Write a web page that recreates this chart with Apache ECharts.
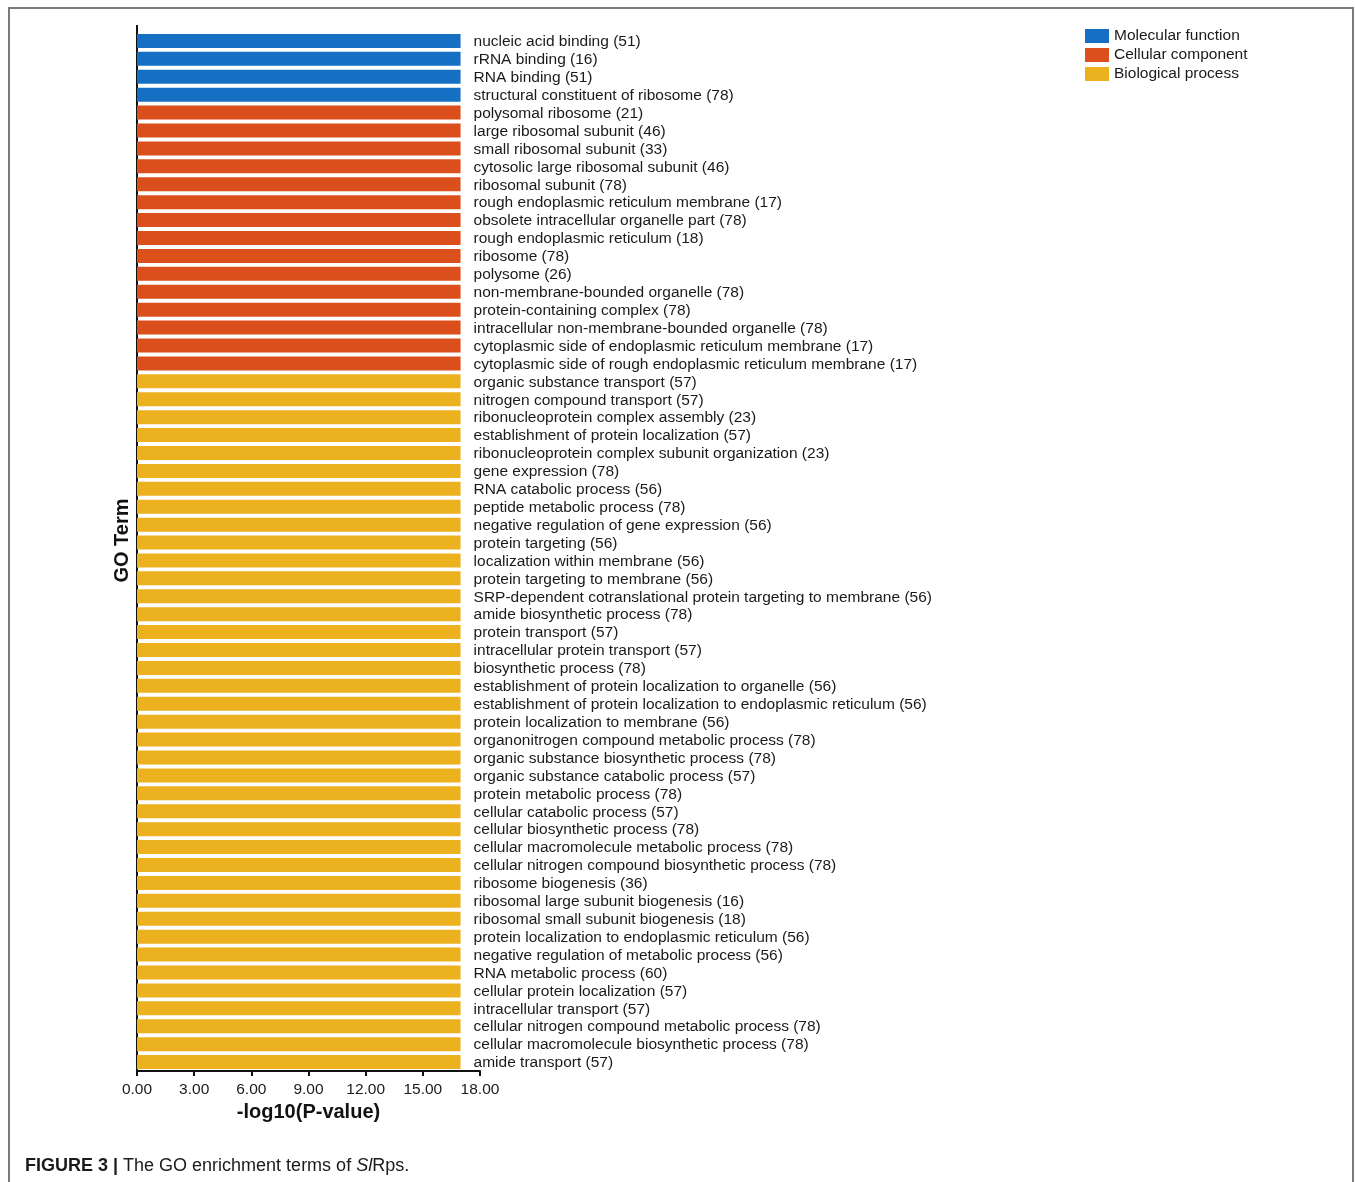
<!DOCTYPE html>
<html>
<head>
<meta charset="utf-8">
<script src="https://cdn.jsdelivr.net/npm/echarts@6/dist/echarts.min.js"></script>
<style>
  html, body { margin: 0; padding: 0; background: #fff; }
  #go-chart { width: 1355px; height: 1182px; }
</style>
</head>
<body>
<div id="go-chart"></div>
<script>
// GO terms, top to bottom
const terms = [
  'nucleic acid binding', 'rRNA binding', 'RNA binding', 'structural constituent of ribosome',
  'polysomal ribosome', 'large ribosomal subunit', 'small ribosomal subunit', 'cytosolic large ribosomal subunit',
  'ribosomal subunit', 'rough endoplasmic reticulum membrane', 'obsolete intracellular organelle part',
  'rough endoplasmic reticulum', 'ribosome', 'polysome', 'non-membrane-bounded organelle',
  'protein-containing complex', 'intracellular non-membrane-bounded organelle',
  'cytoplasmic side of endoplasmic reticulum membrane', 'cytoplasmic side of rough endoplasmic reticulum membrane',
  'organic substance transport', 'nitrogen compound transport', 'ribonucleoprotein complex assembly',
  'establishment of protein localization', 'ribonucleoprotein complex subunit organization', 'gene expression',
  'RNA catabolic process', 'peptide metabolic process', 'negative regulation of gene expression',
  'protein targeting', 'localization within membrane', 'protein targeting to membrane',
  'SRP-dependent cotranslational protein targeting to membrane', 'amide biosynthetic process',
  'protein transport', 'intracellular protein transport', 'biosynthetic process',
  'establishment of protein localization to organelle', 'establishment of protein localization to endoplasmic reticulum',
  'protein localization to membrane', 'organonitrogen compound metabolic process',
  'organic substance biosynthetic process', 'organic substance catabolic process', 'protein metabolic process',
  'cellular catabolic process', 'cellular biosynthetic process', 'cellular macromolecule metabolic process',
  'cellular nitrogen compound biosynthetic process', 'ribosome biogenesis', 'ribosomal large subunit biogenesis',
  'ribosomal small subunit biogenesis', 'protein localization to endoplasmic reticulum',
  'negative regulation of metabolic process', 'RNA metabolic process', 'cellular protein localization',
  'intracellular transport', 'cellular nitrogen compound metabolic process',
  'cellular macromolecule biosynthetic process', 'amide transport'
];

// gene counts shown in brackets
const geneCounts = [
  51, 16, 51, 78,
  21, 46, 33, 46, 78, 17, 78, 18, 78, 26, 78, 78, 78, 17, 17,
  57, 57, 23, 57, 23, 78, 56, 78, 56, 56,
  56, 56, 56, 78, 57, 57, 78, 56, 56, 56,
  78, 78, 57, 78, 57, 78, 78, 78, 36, 16,
  18, 56, 56, 60, 57, 57, 78, 78, 57
];

// 0 = Molecular function, 1 = Cellular component, 2 = Biological process
const termGroup = [
  0, 0, 0, 0,
  1, 1, 1, 1, 1, 1, 1, 1, 1, 1, 1, 1, 1, 1, 1,
  2, 2, 2, 2, 2, 2, 2, 2, 2, 2,
  2, 2, 2, 2, 2, 2, 2, 2, 2, 2,
  2, 2, 2, 2, 2, 2, 2, 2, 2, 2,
  2, 2, 2, 2, 2, 2, 2, 2, 2
];

const logP = [
  16.98, 16.98, 16.98, 16.98,
  16.98, 16.98, 16.98, 16.98, 16.98, 16.98, 16.98, 16.98, 16.98, 16.98, 16.98, 16.98, 16.98, 16.98, 16.98,
  16.98, 16.98, 16.98, 16.98, 16.98, 16.98, 16.98, 16.98, 16.98, 16.98,
  16.98, 16.98, 16.98, 16.98, 16.98, 16.98, 16.98, 16.98, 16.98, 16.98,
  16.98, 16.98, 16.98, 16.98, 16.98, 16.98, 16.98, 16.98, 16.98, 16.98,
  16.98, 16.98, 16.98, 16.98, 16.98, 16.98, 16.98, 16.98, 16.98
];

const groupNames = ['Molecular function', 'Cellular component', 'Biological process'];
const groupColors = ['#1570c4', '#da4f1c', '#ecb11f'];
const xTicks = [0, 3, 6, 9, 12, 15, 18];

const FONT = 'Arial, "Liberation Sans", Helvetica, sans-serif';

const chart = echarts.init(document.getElementById('go-chart'), null, { renderer: 'canvas' });

const series = groupNames.map((name, g) => ({
  name: name,
  type: 'bar',
  stack: 'go',
  barWidth: 14,
  itemStyle: { color: groupColors[g] },
  data: logP.map((v, i) => (termGroup[i] === g ? v : '-')),
  label: {
    show: true,
    position: 'right',
    distance: 13,
    offset: [0, 1],
    color: '#1a1a1a',
    fontSize: 15.5,
    fontFamily: FONT,
    formatter: p => terms[p.dataIndex] + ' (' + geneCounts[p.dataIndex] + ')'
  },
  emphasis: { disabled: true }
}));

const option = {
  backgroundColor: '#fff',
  animation: false,
  textStyle: { fontFamily: FONT, color: '#1a1a1a' },
  grid: { left: 137, right: 875, top: 32, bottom: 111, containLabel: false },
  legend: {
    data: groupNames,
    orient: 'vertical',
    left: 1080,
    top: 23,
    itemWidth: 24,
    itemHeight: 14,
    itemGap: 3,
    icon: 'rect',
    textStyle: { fontSize: 15.5, color: '#1a1a1a', fontFamily: FONT }
  },
  xAxis: {
    type: 'value',
    min: xTicks[0],
    max: xTicks[xTicks.length - 1],
    interval: 3,
    name: '-log10(P-value)',
    nameLocation: 'middle',
    nameGap: 28,
    nameTextStyle: { fontSize: 20, fontWeight: 'bold', color: '#111', fontFamily: FONT },
    axisLine: { show: true, lineStyle: { color: '#111', width: 2 } },
    axisTick: { show: true, length: 5, lineStyle: { color: '#111', width: 2 } },
    axisLabel: { fontSize: 15.5, color: '#1a1a1a', margin: 11, formatter: v => v.toFixed(2) },
    splitLine: { show: false }
  },
  yAxis: {
    type: 'category',
    data: terms,
    inverse: true,
    name: 'GO Term',
    nameLocation: 'middle',
    nameGap: 5,
    nameTextStyle: { fontSize: 20, fontWeight: 'bold', color: '#111', fontFamily: FONT, padding: [0, 0, 0, 22] },
    axisLine: { show: true, onZero: false, lineStyle: { color: '#111', width: 2 } },
    axisTick: { show: false },
    axisLabel: { show: false },
    splitLine: { show: false }
  },
  graphic: [
    {
      type: 'polyline',
      silent: true,
      shape: { points: [[9, 1182], [9, 8], [1353, 8], [1353, 1182]] },
      style: { stroke: '#7a7a7a', lineWidth: 2, fill: null }
    },
    {
      type: 'line',
      silent: true,
      shape: { x1: 137, y1: 25, x2: 137, y2: 33 },
      style: { stroke: '#111', lineWidth: 2 }
    },
    {
      type: 'text',
      left: 25,
      top: 1157,
      silent: true,
      style: {
        text: '{b|FIGURE 3 |} The GO enrichment terms of {i|Sl}Rps.',
        font: '18px ' + FONT,
        fill: '#1a1a1a',
        rich: {
          b: { fontWeight: 'bold', fontSize: 18, fill: '#1a1a1a' },
          i: { fontStyle: 'italic', fontSize: 18, fill: '#1a1a1a' }
        }
      }
    }
  ],
  series: series
};

chart.setOption(option);
</script>
</body>
</html>
